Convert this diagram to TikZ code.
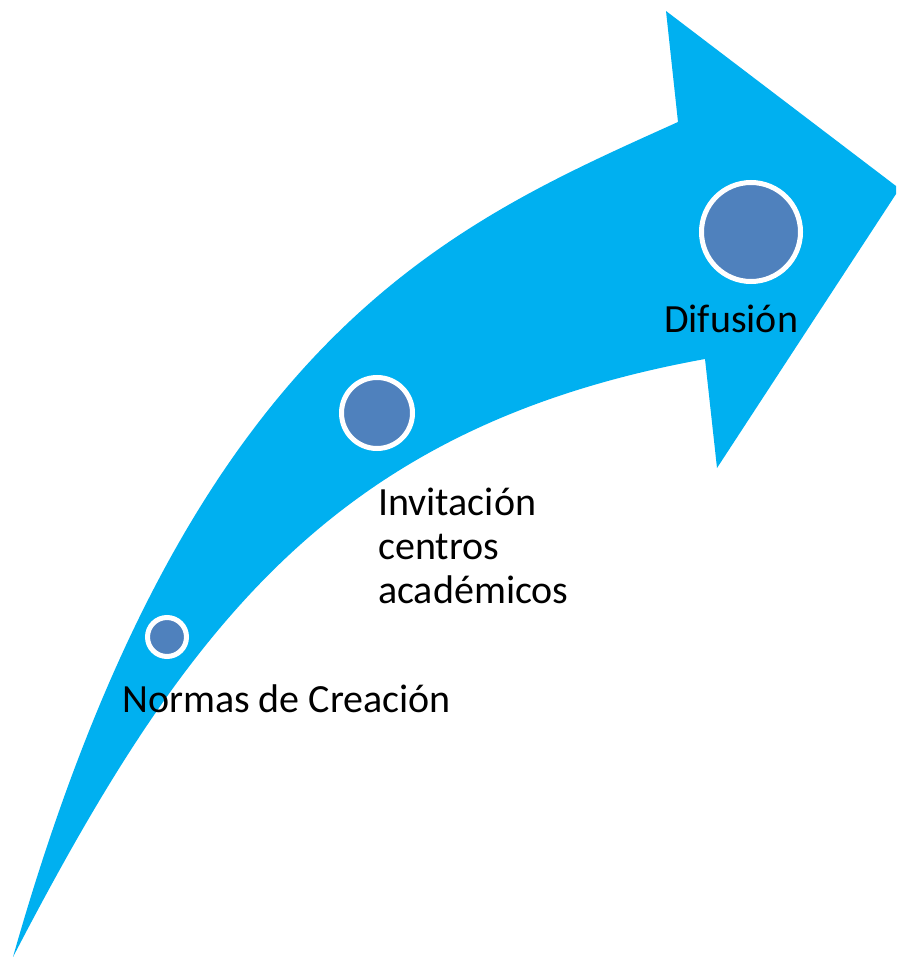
\documentclass[tikz,border=0pt]{standalone}
\usepackage{fontspec}
\setmainfont{Carlito}
\definecolor{arrowblue}{HTML}{00B0F0}
\definecolor{dotblue}{HTML}{4F81BD}
\begin{document}
\begin{tikzpicture}[x=1pt,y=-1pt,
  dot/.style={circle,fill=dotblue,draw=white,inner sep=0pt},
  lbl/.style={font=\fontsize{40}{44}\selectfont,text=black,inner sep=0pt,anchor=base west,align=left}]
\useasboundingbox (0,0) rectangle (896,957);
\fill[arrowblue] (13,957)
  .. controls (190,333) and (450,225) .. (678,122)
  -- (666,11) -- (896,186) -- (896,194) -- (717,468) -- (705,359)
  .. controls (336,426) and (186,624) .. (13,957)
  -- cycle;
\node[dot,minimum size=39pt,line width=5pt] (c1) at (167,637) {};
\node[dot,minimum size=71pt,line width=5pt] (c2) at (377,413) {};
\node[dot,minimum size=99pt,line width=5pt] (c3) at (751,232) {};
\node[lbl] (t1) at (122,712) {Normas de Creación};
\node[lbl] (t2) at (378,603) {Invitación\\centros\\académicos};
\node[lbl] (t3) at (664,332) {Difusión};
\end{tikzpicture}
\end{document}
